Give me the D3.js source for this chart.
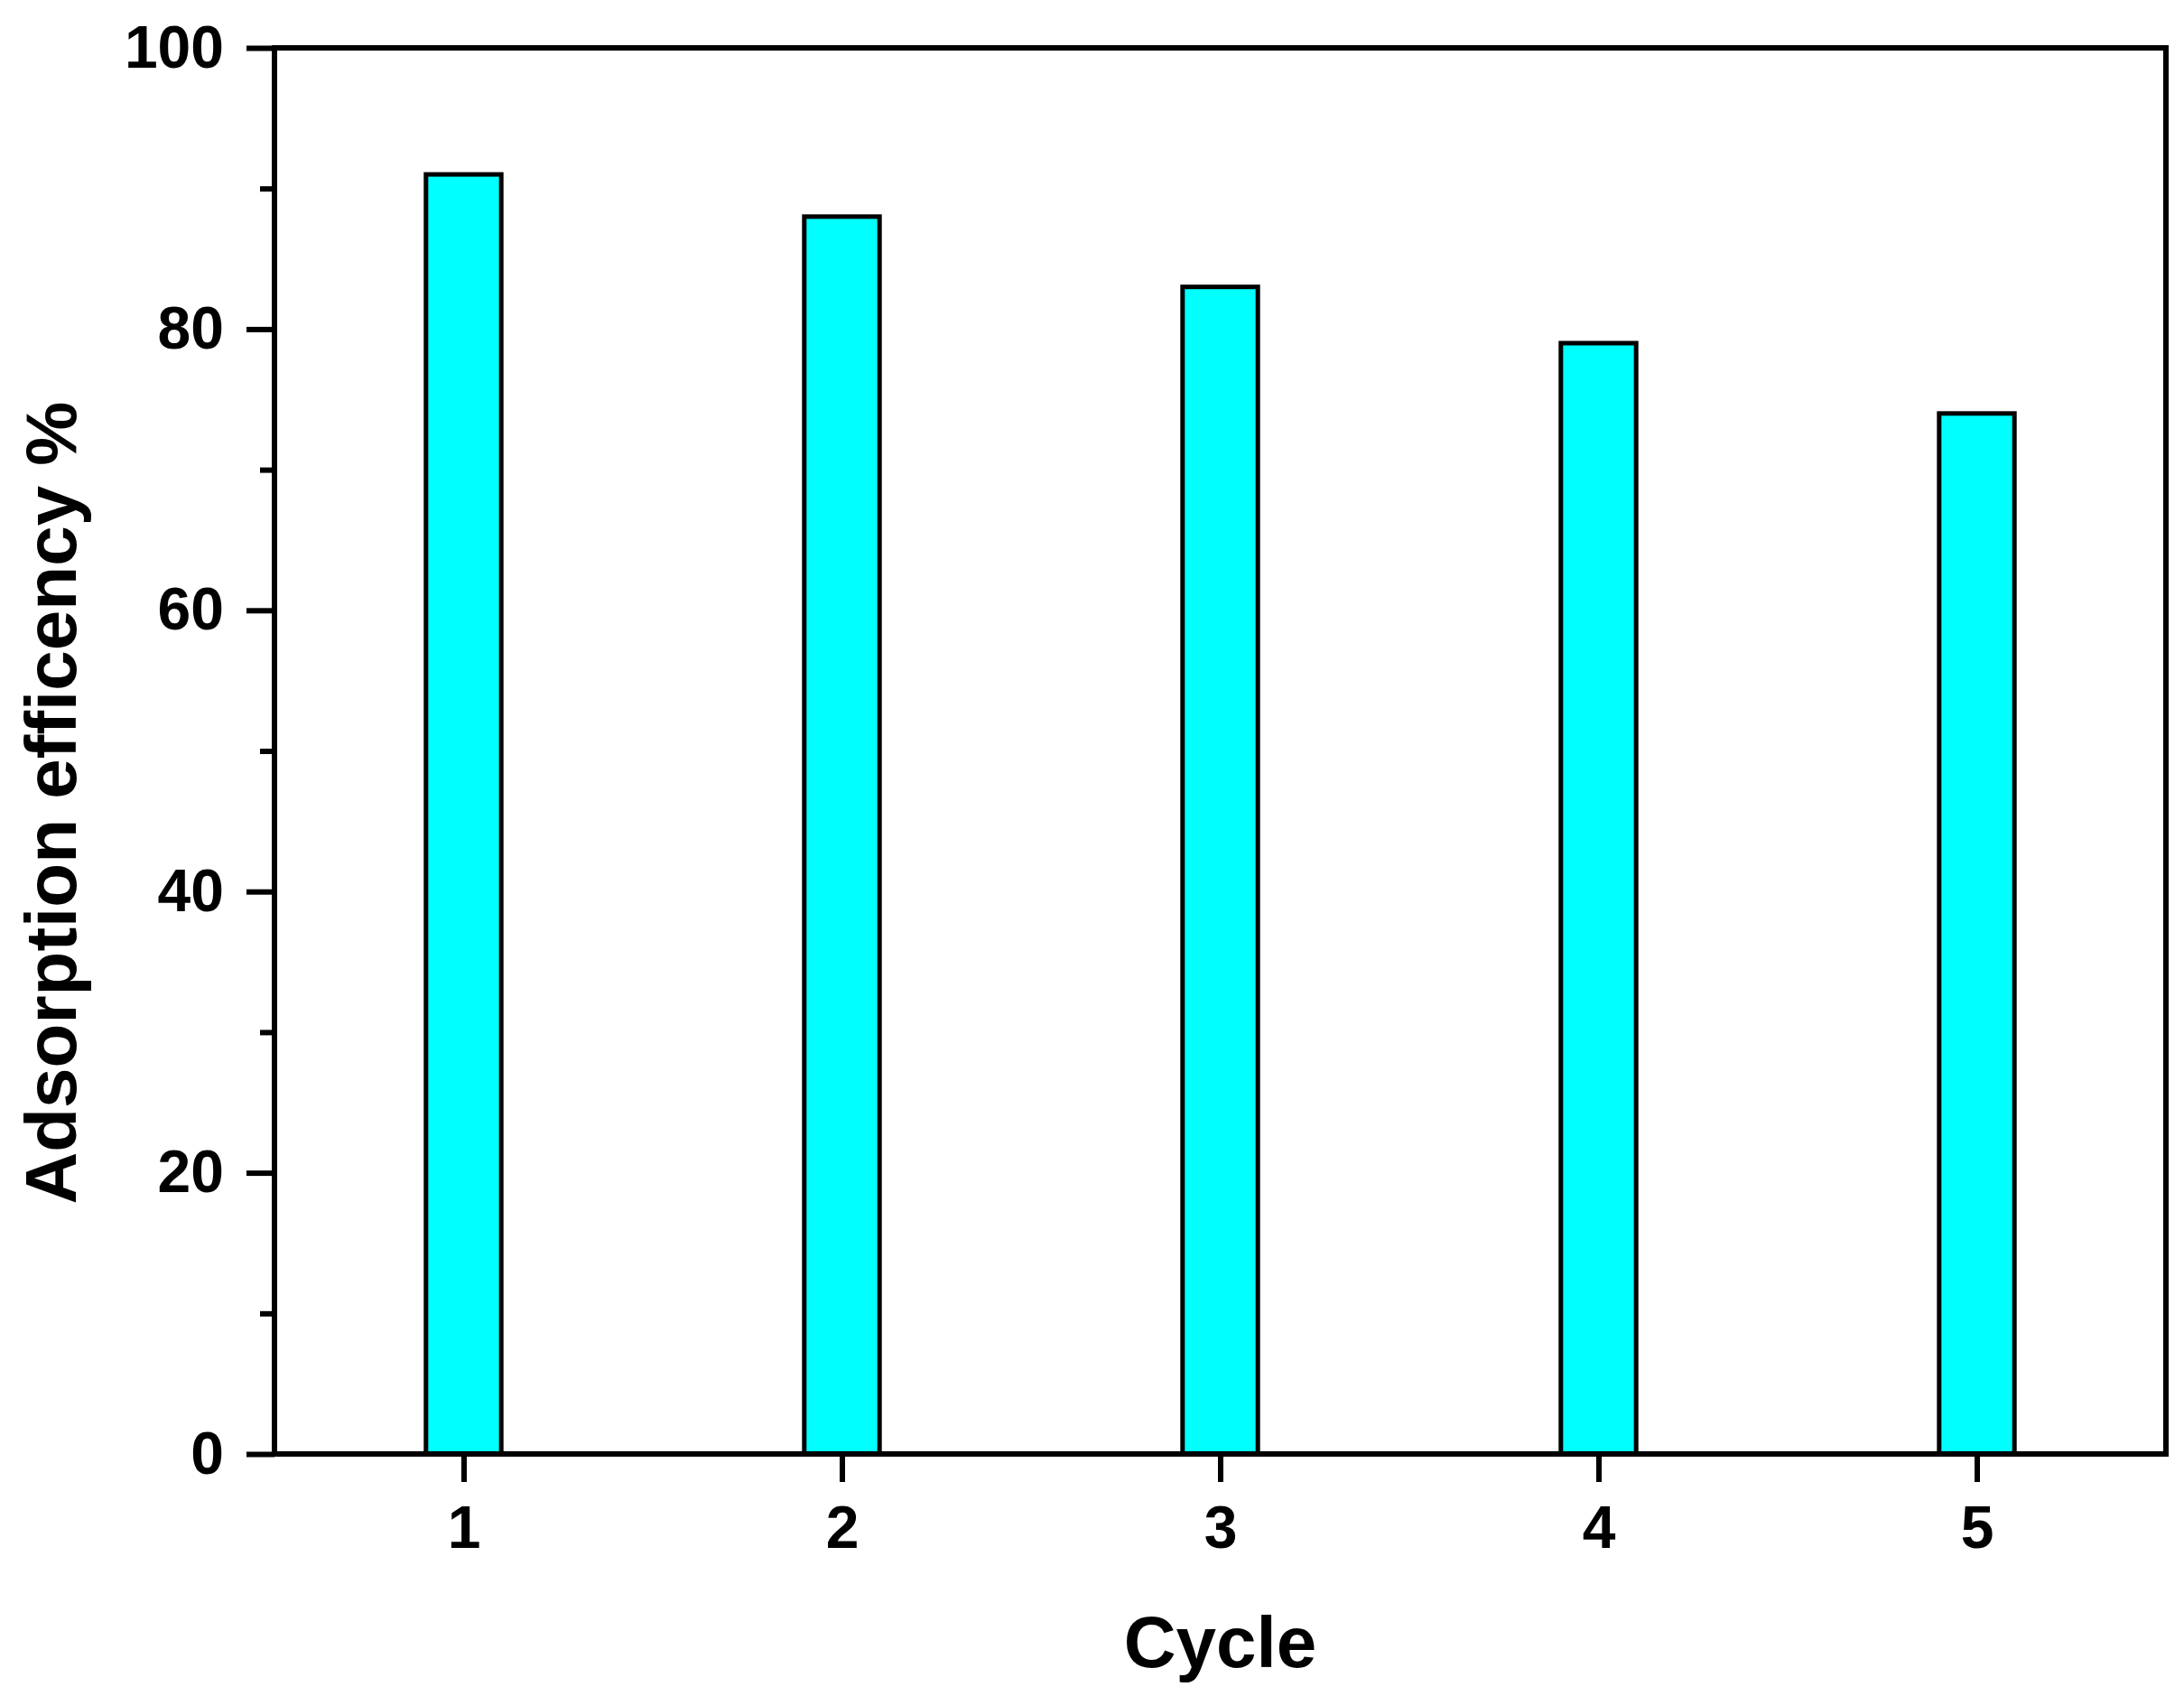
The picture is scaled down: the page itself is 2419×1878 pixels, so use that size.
<!DOCTYPE html>
<html>
<head>
<meta charset="utf-8">
<script src="https://cdn.jsdelivr.net/npm/d3@7"></script>
<style>
  html, body { margin: 0; padding: 0; background: #fff; }
  svg { display: block; }
  text { font-family: "Liberation Sans", Arial, sans-serif; font-weight: bold; font-variant-ligatures: none; }
</style>
</head>
<body>
<script>
const cycles = [1, 2, 3, 4, 5];
const efficiency = [91, 88, 83, 79, 74];
const yMajorTicks = [0, 20, 40, 60, 80, 100];
const yMinorTicks = [10, 30, 50, 70, 90];
const xTickLabels = ["1", "2", "3", "4", "5"];
const xTitle = "Cycle";
const yTitle = "Adsorption efficency %";

const W = 2419, H = 1878;
const L = 304, R = 2399, T = 53, B = 1610;

const svg = d3.select("body").append("svg").attr("width", W).attr("height", H);

const x = d3.scaleLinear().domain([0.5, 5.5]).range([L, R]);
const y = d3.scaleLinear().domain([0, 100]).range([B, T]);

const barW = (x(1.5) - x(0.5)) * 0.199;

svg.append("g").selectAll("rect").data(cycles).join("rect")
  .attr("x", (d) => x(d) - barW / 2)
  .attr("y", (d, i) => y(efficiency[i]))
  .attr("width", barW)
  .attr("height", (d, i) => y(0) - y(efficiency[i]))
  .attr("fill", "#00FFFF")
  .attr("stroke", "#000")
  .attr("stroke-width", 5);

// frame
svg.append("rect")
  .attr("x", L).attr("y", T).attr("width", R - L).attr("height", B - T)
  .attr("fill", "none").attr("stroke", "#000").attr("stroke-width", 6);

// y axis minor
const yMinor = svg.append("g").attr("transform", `translate(${L},0)`)
  .call(d3.axisLeft(y).tickValues(yMinorTicks).tickSize(16).tickFormat(""));
yMinor.select(".domain").remove();
yMinor.selectAll(".tick line").attr("stroke-width", 6);

// y axis major
const yAxis = svg.append("g").attr("transform", `translate(${L},0)`)
  .call(d3.axisLeft(y).tickValues(yMajorTicks).tickSize(31).tickPadding(25).tickFormat(d3.format("d")));
yAxis.select(".domain").remove();
yAxis.selectAll(".tick line").attr("stroke-width", 6);
yAxis.selectAll(".tick text").attr("font-size", 66).attr("fill", "#000")
  .style("font-family", '"Liberation Sans", Arial, sans-serif').style("font-weight", "bold");

// x axis
const xAxis = svg.append("g").attr("transform", `translate(0,${B})`)
  .call(d3.axisBottom(x).tickValues(cycles).tickSize(31).tickPadding(26).tickFormat((d, i) => xTickLabels[i]));
xAxis.select(".domain").remove();
xAxis.selectAll(".tick line").attr("stroke-width", 6);
xAxis.selectAll(".tick text").attr("font-size", 66).attr("fill", "#000")
  .style("font-family", '"Liberation Sans", Arial, sans-serif').style("font-weight", "bold");

// titles
svg.append("text")
  .attr("x", (L + R) / 2).attr("y", 1846)
  .attr("text-anchor", "middle").attr("font-size", 80).attr("fill", "#000")
  .text(xTitle);

svg.append("text")
  .attr("transform", "translate(84,889) rotate(-90)")
  .attr("text-anchor", "middle").attr("font-size", 80).attr("fill", "#000")
  .text(yTitle);
</script>
</body>
</html>
